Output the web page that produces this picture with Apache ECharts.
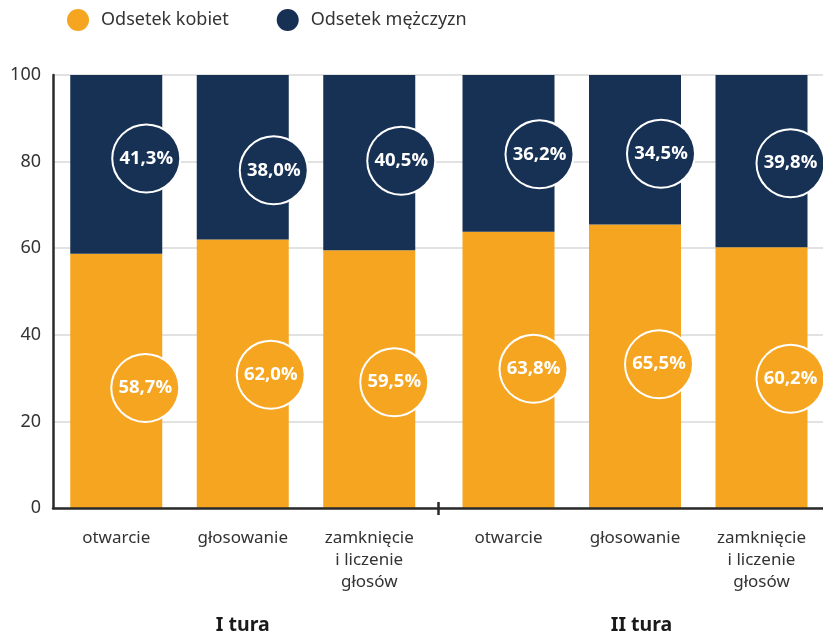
<!DOCTYPE html>
<html>
<head>
<meta charset="utf-8">
<script src="https://cdn.jsdelivr.net/npm/echarts@6/dist/echarts.min.js"></script>
<style>
  html, body { margin: 0; padding: 0; background: #fff; }
  #chart { width: 823px; height: 633px; }
</style>
</head>
<body>
<div id="chart"></div>
<script>
// Etapy pracy komisji (kategorie osi X) i tury wyborów
const etapy = ['otwarcie', 'głosowanie', 'zamknięcie\ni liczenie\ngłosów'];
const tury = ['I tura', 'II tura'];

// Odsetki kobiet i mężczyzn w składach komisji
const kobietyI = [58.7, 62.0, 59.5];
const mezczyzniI = [41.3, 38.0, 40.5];
const kobietyII = [63.8, 65.5, 60.2];
const mezczyzniII = [36.2, 34.5, 39.8];

// Podziałka osi Y
const yMin = 0;
const yMax = 100;
const yStep = 20;

// Kolory i czcionki
const KOLOR_K = '#F5A520';
const KOLOR_M = '#163154';
const TEKST = '#333333';
const FONT = '"Noto Sans", sans-serif';
const FONT_ETYKIETY = '"Open Sans", sans-serif';

// Przesunięcia kółek z etykietami względem środka słupka [dx, dy]
const przesuniecieK = [[29, 7], [28, 1], [25, 3], [25, -1], [24, -2], [29, 1]];
const przesuniecieM = [[30, -6], [31, 13], [32, -2], [31, 1], [26, 4], [29, 2]];

const fmt = v => v.toFixed(1).replace('.', ',') + '%';

function etykieta(kolor, shift) {
  return {
    show: true,
    position: 'inside',
    offset: shift,
    formatter: p => fmt(p.value),
    color: '#fff',
    fontFamily: FONT_ETYKIETY,
    fontWeight: 'bold',
    fontSize: 18.5,
    backgroundColor: kolor,
    borderColor: '#fff',
    borderWidth: 2,
    width: 66,
    height: 66,
    lineHeight: 66,
    align: 'center',
    verticalAlign: 'middle',
    borderRadius: 35
  };
}

// grid: 1 = I tura, 2 = II tura (siatka 0 niesie wspólne osie)
function serie(nazwa, dane, kolor, grid, shifts, start) {
  return {
    name: nazwa,
    type: 'bar',
    stack: 'tura' + grid,
    xAxisIndex: grid + 1,
    yAxisIndex: grid,
    barWidth: 92,
    itemStyle: { color: kolor },
    data: dane.map((v, i) => ({ value: v, label: etykieta(kolor, shifts[start + i]) })),
    emphasis: { disabled: true }
  };
}

const kategorieOs = (grid, nazwa, pad) => ({
  type: 'category',
  gridIndex: grid,
  data: etapy,
  axisLine: { show: false },
  axisTick: { show: false },
  axisLabel: {
    color: TEKST,
    fontFamily: FONT,
    fontSize: 17,
    lineHeight: 22,
    margin: 19,
    interval: 0
  },
  name: nazwa,
  nameLocation: 'middle',
  nameGap: 107,
  nameTextStyle: {
    color: '#1a1a1a',
    fontFamily: FONT,
    fontWeight: 'bold',
    fontSize: 19.5,
    padding: pad
  }
});

const siatka = (extra) => Object.assign({ top: 75, bottom: 125, outerBoundsMode: 'none', containLabel: false }, extra);

const chart = echarts.init(document.getElementById('chart'));
chart.setOption({
  animation: false,
  backgroundColor: '#fff',
  legend: {
    left: 67,
    top: 9,
    padding: 0,
    icon: 'circle',
    itemWidth: 22,
    itemHeight: 22,
    itemGap: 48,
    selectedMode: false,
    data: ['Odsetek kobiet', 'Odsetek mężczyzn'],
    textStyle: { color: TEKST, fontFamily: FONT, fontSize: 18, padding: [0, 0, 0, 7] }
  },
  grid: [
    siatka({ left: 53, right: 0 }),
    siatka({ left: 53, width: 379.5 }),
    siatka({ left: 445.25, width: 379.5 })
  ],
  xAxis: [
    {
      type: 'value', gridIndex: 0, min: 0, max: tury.length, position: 'bottom', z: 5,
      axisLine: { show: true, lineStyle: { color: '#2a2a2a', width: 2.5 } },
      axisTick: { show: true, customValues: [1], length: 7, lineStyle: { color: '#2a2a2a', width: 2.5 } },
      axisLabel: { show: false },
      splitLine: { show: false }
    },
    {
      type: 'value', gridIndex: 0, min: 0, max: tury.length, position: 'bottom', z: 5,
      axisLine: { show: false },
      axisTick: { show: true, inside: true, customValues: [1], length: 6, lineStyle: { color: '#2a2a2a', width: 2.5 } },
      axisLabel: { show: false },
      splitLine: { show: false }
    },
    kategorieOs(1, tury[0], [0, 0, 0, 0]),
    kategorieOs(2, tury[1], [0, 0, 0, 13])
  ],
  yAxis: [
    {
      type: 'value', gridIndex: 0, min: yMin, max: yMax, interval: yStep,
      axisLine: { show: true, lineStyle: { color: '#2a2a2a', width: 2.5 } },
      axisTick: { show: false },
      axisLabel: { color: TEKST, fontFamily: FONT, fontSize: 18, margin: 12 },
      splitLine: { show: true, lineStyle: { color: '#d9d9d9', width: 1.5 } }
    },
    { type: 'value', gridIndex: 1, min: yMin, max: yMax, interval: yStep, show: false },
    { type: 'value', gridIndex: 2, min: yMin, max: yMax, interval: yStep, show: false }
  ],
  series: [
    serie('Odsetek kobiet', kobietyI, KOLOR_K, 1, przesuniecieK, 0),
    serie('Odsetek mężczyzn', mezczyzniI, KOLOR_M, 1, przesuniecieM, 0),
    serie('Odsetek kobiet', kobietyII, KOLOR_K, 2, przesuniecieK, 3),
    serie('Odsetek mężczyzn', mezczyzniII, KOLOR_M, 2, przesuniecieM, 3)
  ]
});
</script>
</body>
</html>
